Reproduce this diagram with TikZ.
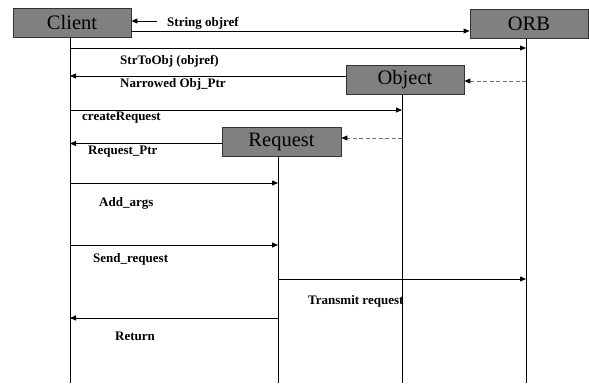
\documentclass[tikz,border=0pt]{standalone}
\usepackage{fontspec}
\setmainfont{Liberation Serif}
\usetikzlibrary{arrows.meta}
\begin{document}
\begin{tikzpicture}[x=1pt,y=-1pt,
  obj/.style={draw=black!80,fill=black!50,line width=0.8pt,minimum width=118pt,minimum height=29pt,inner sep=0pt,font=\fontsize{20.5}{22}\selectfont},
  life/.style={line width=0.9pt},
  msg/.style={line width=0.9pt,-{Triangle[length=6pt,width=5pt]}},
  ret/.style={line width=0.9pt,dashed,draw=black!55,dash pattern=on 4pt off 2.5pt,-{Triangle[length=6pt,width=5pt,fill=black,color=black]}},
  lbl/.style={anchor=base west,inner sep=0pt,font=\fontsize{13}{15}\selectfont\bfseries}]
\useasboundingbox (0,0) rectangle (589,383);
% objects
\node[obj] (client) at (72,22.5) {Client};
\node[obj] (orb) at (529,23.5) {ORB};
% lifeline anchors
\coordinate (clT) at (70,37);  \coordinate (clB) at (70,383);
\coordinate (orT) at (526,38); \coordinate (orB) at (526,383);
\coordinate (obT) at (402,94); \coordinate (obB) at (402,383);
\coordinate (rqT) at (278,156);\coordinate (rqB) at (278,383);
\draw[life] (clT) -- (clB);
\draw[life] (orT) -- (orB);
\draw[life] (obT) -- (obB);
\draw[life] (rqT) -- (rqB);
\node[obj] (object) at (405,79.5) {Object};
\node[obj,minimum width=119pt] (request) at (281.5,141.5) {Request};
% String objref
\coordinate (soS) at (157,21);
\draw[msg] (soS) -- (client.east |- soS);
\draw[msg] (client.east |- 0,31) -- (orb.west |- 0,31);
\node[lbl] (l1) at (167,26) {String objref};
% StrToObj
\draw[msg] (clB |- 0,48) -- (orB |- 0,48);
\node[lbl] (l2) at (120,64) {StrToObj (objref)};
% Narrowed
\draw[msg] (object.west |- 0,76) -- (clB |- 0,76);
\node[lbl] (l3) at (120,87) {Narrowed Obj\_Ptr};
\draw[ret] (orB |- 0,81) -- (object.east |- 0,81);
% createRequest
\draw[msg] (clB |- 0,110) -- (obB |- 0,110);
\node[lbl] (l4) at (82,120) {createRequest};
\draw[ret] (obB |- 0,138) -- (request.east |- 0,138);
% Request_Ptr
\draw[msg] (request.west |- 0,143.5) -- (clB |- 0,143.5);
\node[lbl] (l5) at (88,154) {Request\_Ptr};
% Add_args
\draw[msg] (clB |- 0,183) -- (rqB |- 0,183);
\node[lbl] (l6) at (99,206) {Add\_args};
% Send_request
\draw[msg] (clB |- 0,245) -- (rqB |- 0,245);
\node[lbl] (l7) at (93,262) {Send\_request};
% Transmit
\draw[msg] (rqB |- 0,279) -- (orB |- 0,279);
\node[lbl] (l8) at (308,304) {Transmit request};
% Return
\draw[msg] (rqB |- 0,318) -- (clB |- 0,318);
\node[lbl] (l9) at (115,340) {Return};
\end{tikzpicture}
\end{document}
